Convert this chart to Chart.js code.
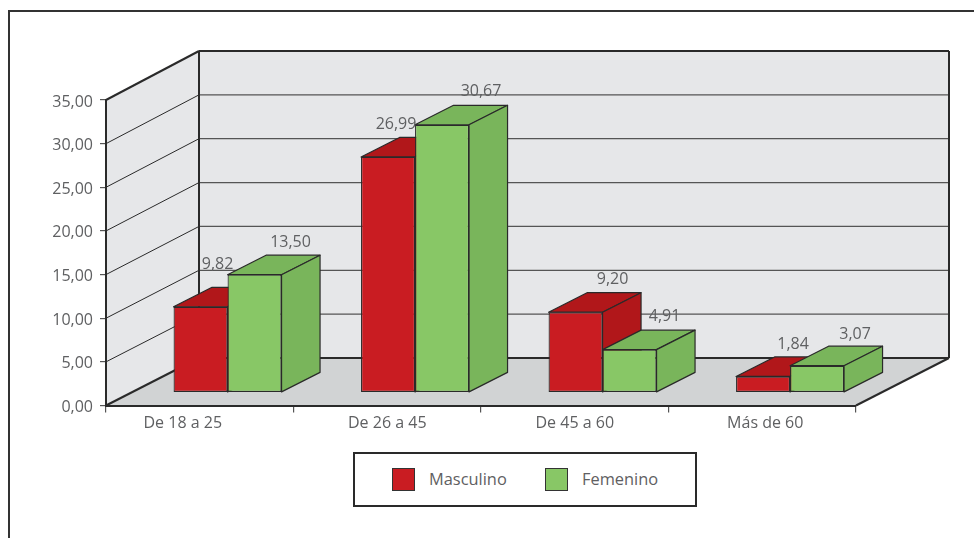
<!DOCTYPE html>
<html lang="es">
<head>
<meta charset="utf-8">
<title>Masculino y Femenino por edad</title>
<script src="https://cdn.jsdelivr.net/npm/chart.js@4"></script>
<style>
  html, body { margin: 0; padding: 0; width: 974px; height: 538px; overflow: hidden; background: #fff; }
  #marco { position: absolute; left: 8px; top: 10px; width: 1000px; height: 600px; border: 2px solid #333; }
  canvas { position: absolute; left: 0; top: 0; }
  #leyenda {
    position: absolute; left: 353px; top: 452px; width: 340px; height: 51px;
    border: 2px solid #2a2a2a; background: #fff;
    font: 16.4px "Open Sans", sans-serif; color: #5f6062;
  }
  #leyenda i { position: absolute; top: 14px; width: 21px; height: 21px; border: 1px solid #333; }
  #leyenda span { position: absolute; top: 13px; line-height: 24px; }
</style>
</head>
<body>
<div id="marco"></div>
<canvas id="grafico" width="974" height="538"></canvas>
<div id="leyenda"></div>
<script>
const categorias = ['De 18 a 25', 'De 26 a 45', 'De 45 a 60', 'Más de 60'];
const masculino = [9.82, 26.99, 9.20, 1.84];
const femenino = [13.50, 30.67, 4.91, 3.07];

const rojo = '#c91c22';
const rojoOscuro = '#b1171a';
const verde = '#88c766';
const verdeOscuro = '#79b55b';
const colorTexto = '#5f6062';
const fuente = { family: '"Open Sans", sans-serif', size: 16 };

// Profundidad de la caja (paredes y suelo) y de las barras
const fondoX = 93;
const fondoY = -47.5;
const fondoEscala = 307 / 305.5;
const barraX = 27.8;
const barraY = -13;
const ladoX = 38.5;
const ladoY = -19.5;

// Ajuste de las etiquetas de los ejes y de cada valor respecto a su barra
const ajusteEjeX = [-17, 0, 0, 3];
const ajusteEjeY = 2;
const ajusteEtiquetas = [
  [[17, -42.5], [8, -32.5], [37, -32.5], [30, -32.5]],
  [[36, -32.5], [39, -33.5], [35, -33.5], [38, -31.5]]
];

function formatoComa(v) {
  return Number(v).toFixed(2).replace('.', ',');
}

function poligono(ctx, puntos, relleno, trazo, grosor) {
  ctx.beginPath();
  puntos.forEach((p, i) => i === 0 ? ctx.moveTo(p[0], p[1]) : ctx.lineTo(p[0], p[1]));
  ctx.closePath();
  ctx.fillStyle = relleno;
  ctx.fill();
  if (trazo) {
    ctx.strokeStyle = trazo;
    ctx.lineWidth = grosor;
    ctx.lineJoin = 'round';
    ctx.stroke();
  }
}

function linea(ctx, x1, y1, x2, y2, color, grosor) {
  ctx.beginPath();
  ctx.moveTo(x1, y1);
  ctx.lineTo(x2, y2);
  ctx.strokeStyle = color;
  ctx.lineWidth = grosor;
  ctx.stroke();
}

const caja3d = {
  id: 'caja3d',
  afterUpdate(chart) {
    chart.scales.x.getLabelItems().forEach((item, i) => {
      item.options.translation[0] += ajusteEjeX[i];
    });
    chart.scales.y.getLabelItems().forEach(item => {
      item.options.translation[1] += ajusteEjeY;
    });
  },
  beforeDraw(chart) {
    const ctx = chart.ctx;
    const { left, right, bottom } = chart.chartArea;
    const y = chart.scales.y;
    const cero = y.getPixelForValue(0);
    const atras = py => cero + fondoY - (cero - py) * fondoEscala;
    const arriba = y.getPixelForValue(y.max);
    const oscuro = '#2a2a2a';

    ctx.save();
    // pared del fondo
    poligono(ctx, [[left + fondoX, atras(arriba)], [right + fondoX, atras(arriba)],
      [right + fondoX, atras(cero)], [left + fondoX, atras(cero)]], '#e6e7e9');
    // pared izquierda
    poligono(ctx, [[left, arriba], [left + fondoX, atras(arriba)],
      [left + fondoX, atras(cero)], [left, cero]], '#e6e7e9');
    // suelo
    poligono(ctx, [[left, bottom], [left + fondoX, atras(cero)],
      [right + fondoX, atras(cero)], [right, bottom]], '#d1d3d4');

    y.ticks.forEach(t => {
      const py = y.getPixelForValue(t.value);
      if (t.value > 0 && t.value < y.max) {
        linea(ctx, left + fondoX, atras(py), right + fondoX, atras(py), '#555', 1.3);
        linea(ctx, left, py, left + fondoX, atras(py), '#2a2a2a', 1);
      }
    });

    linea(ctx, left, arriba, left + fondoX, atras(arriba), oscuro, 2);
    linea(ctx, left + fondoX, atras(arriba), right + fondoX, atras(arriba), oscuro, 2);
    linea(ctx, left + fondoX, atras(arriba), left + fondoX, atras(cero), oscuro, 2);
    linea(ctx, right + fondoX, atras(arriba), right + fondoX, atras(cero), oscuro, 2);
    linea(ctx, left + fondoX, atras(cero), right + fondoX, atras(cero), oscuro, 2);
    linea(ctx, left, bottom, left + fondoX, atras(cero), oscuro, 2);
    linea(ctx, right, bottom, right + fondoX, atras(cero), oscuro, 2);
    ctx.restore();
  },
  // Las barras se pintan abajo, en orden, para que Femenino tape a Masculino
  beforeDatasetDraw() {
    return false;
  },
  afterDatasetsDraw(chart) {
    const ctx = chart.ctx;
    ctx.save();
    ctx.translate(barraX, barraY);
    chart.data.datasets.forEach((ds, i) => {
      chart.getDatasetMeta(i).data.forEach(barra => {
        const x1 = barra.x - barra.width / 2;
        const x2 = barra.x + barra.width / 2;
        const yTop = barra.y;
        const yBase = barra.base;
        poligono(ctx, [[x1, yTop], [x1 + ladoX, yTop + ladoY], [x2 + ladoX, yTop + ladoY], [x2, yTop]],
          ds.colorLado, '#2a2a2a', 1.2);
        poligono(ctx, [[x2, yTop], [x2 + ladoX, yTop + ladoY], [x2 + ladoX, yBase + ladoY], [x2, yBase]],
          ds.colorLado, '#2a2a2a', 1.2);
        barra.draw(ctx);
      });
    });
    ctx.restore();

    ctx.save();
    ctx.font = `${fuente.size}px ${fuente.family}`;
    ctx.fillStyle = colorTexto;
    ctx.textAlign = 'center';
    ctx.textBaseline = 'middle';
    chart.data.datasets.forEach((ds, i) => {
      chart.getDatasetMeta(i).data.forEach((barra, j) => {
        const ajuste = ajusteEtiquetas[i][j];
        ctx.fillText(formatoComa(ds.data[j]), barra.x + barraX + ajuste[0], barra.y + barraY + ajuste[1]);
      });
    });
    ctx.restore();
  }
};

const chart = new Chart(document.getElementById('grafico').getContext('2d'), {
  type: 'bar',
  data: {
    labels: categorias,
    datasets: [
      { label: 'Masculino', data: masculino, backgroundColor: rojo, colorLado: rojoOscuro,
        borderColor: '#2a2a2a', borderWidth: 1.2, borderSkipped: false },
      { label: 'Femenino', data: femenino, backgroundColor: verde, colorLado: verdeOscuro,
        borderColor: '#2a2a2a', borderWidth: 1.2, borderSkipped: false }
    ]
  },
  options: {
    responsive: false,
    animation: false,
    layout: { padding: { top: 100, right: 118, left: 0, bottom: 0 } },
    datasets: { bar: { categoryPercentage: 0.576, barPercentage: 1 } },
    plugins: { legend: { display: false }, tooltip: { enabled: false } },
    scales: {
      x: {
        afterFit: s => { s.height = 132.5; },
        grid: { drawOnChartArea: false, color: '#555', tickLength: 7, lineWidth: 1.2 },
        border: { color: '#2a2a2a', width: 2 },
        ticks: { color: colorTexto, font: fuente, padding: 1, maxRotation: 0 }
      },
      y: {
        min: 0,
        max: 35,
        afterFit: s => { s.width = 106; },
        grid: { drawOnChartArea: false, color: '#555', tickLength: 6, lineWidth: 1.2 },
        border: { color: '#2a2a2a', width: 2 },
        ticks: { color: colorTexto, font: fuente, padding: 7, stepSize: 5, callback: formatoComa }
      }
    }
  },
  plugins: [caja3d]
});

// Leyenda en HTML a partir de las series
const leyendaEl = document.getElementById('leyenda');
const posicionesLeyenda = [[37, 74], [190, 227]];
chart.data.datasets.forEach((ds, i) => {
  const cuadro = document.createElement('i');
  cuadro.style.left = posicionesLeyenda[i][0] + 'px';
  cuadro.style.background = ds.backgroundColor;
  const texto = document.createElement('span');
  texto.style.left = posicionesLeyenda[i][1] + 'px';
  texto.textContent = ds.label;
  leyendaEl.appendChild(cuadro);
  leyendaEl.appendChild(texto);
});
</script>
</body>
</html>
